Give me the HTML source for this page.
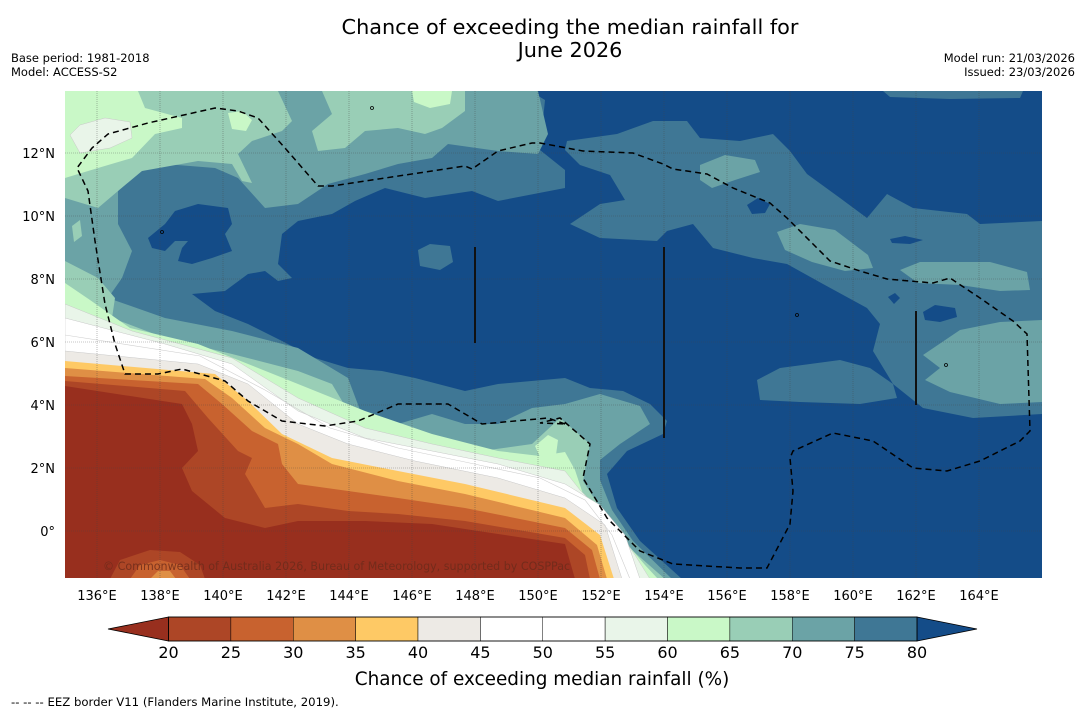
<!DOCTYPE html>
<html><head><meta charset="utf-8">
<style>
html,body{margin:0;padding:0;background:#fff;}
body{width:1085px;height:713px;overflow:hidden;font-family:"Liberation Sans","DejaVu Sans",sans-serif;}
svg text{font-family:"DejaVu Sans","Liberation Sans",sans-serif;}
</style></head>
<body>
<svg id="chart" width="1085" height="713" viewBox="0 0 1085 713" xmlns="http://www.w3.org/2000/svg">
  <text x="570" y="34" font-size="20.8" text-anchor="middle" fill="#000">Chance of exceeding the median rainfall for</text>
  <text x="570" y="57" font-size="20.8" text-anchor="middle" fill="#000">June 2026</text>
  <text x="11" y="62" font-size="11.5" fill="#000">Base period: 1981-2018</text>
  <text x="11" y="76" font-size="11.5" fill="#000">Model: ACCESS-S2</text>
  <text x="1075" y="62" font-size="11.5" text-anchor="end" fill="#000">Model run: 21/03/2026</text>
  <text x="1075" y="76" font-size="11.5" text-anchor="end" fill="#000">Issued: 23/03/2026</text>
  <defs><clipPath id="mapclip"><rect x="65" y="91" width="977" height="487"/></clipPath></defs>
  <g id="map" clip-path="url(#mapclip)"></g>
  <g id="axes"></g>
  <g id="cbar"></g>
  <text x="542" y="685" font-size="18.4" text-anchor="middle" fill="#000">Chance of exceeding median rainfall (%)</text>
  <text x="11" y="706" font-size="11.7" fill="#000">--  --  -- EEZ border V11 (Flanders Marine Institute, 2019).</text>
</svg>
<script>
// ---- data ----
const lonTicks = [136,138,140,142,144,146,148,150,152,154,156,158,160,162,164];
const latTicks = [0,2,4,6,8,10,12];
const cbLevels = [20,25,30,35,40,45,50,55,60,65,70,75,80];
const cbColors = ["#ad4626","#c8622f","#df8f45","#fec965","#edeae5","#ffffff","#ffffff","#e9f5e9","#c9f8c7","#99ceb6","#6ba3a6","#3f7795"];
const underColor = "#982f1e", overColor = "#144c88";
const lonMin = 135, lonMax = 166, latMin = -1.5, latMax = 14;
const X0=65.5, X1=1042, Y0=91, Y1=578;
function px(lon){return X0+(lon-lonMin)/(lonMax-lonMin)*(X1-X0);}
function py(lat){return 153+(12-lat)*31.5;}
const NS="http://www.w3.org/2000/svg";
function mk(tag,attrs,parent){const e=document.createElementNS(NS,tag);for(const k in attrs)e.setAttribute(k,attrs[k]);parent.appendChild(e);return e;}
const map=document.getElementById('map');

// digitized contour regions (screen coordinates of the map raster)
const C = {
 p80a:[[65,91],[530,91],[545,100],[540,150],[565,170],[565,188],[498,201],[472,191],[425,198],[385,188],[355,201],[332,214],[298,221],[282,234],[278,264],[292,278],[278,281],[265,271],[248,274],[225,291],[192,294],[215,311],[248,324],[282,341],[315,358],[348,368],[382,371],[415,378],[465,391],[498,384],[565,378],[590,388],[623,391],[650,404],[667,421],[663,434],[627,451],[607,474],[617,508],[640,541],[682,579],[65,579]],
 p80b:[[565,150],[567,141],[617,134],[653,121],[687,121],[700,138],[740,141],[773,134],[790,151],[807,174],[840,198],[867,218],[887,194],[913,208],[967,214],[980,224],[1042,221],[1042,414],[973,418],[923,408],[893,384],[873,351],[880,324],[867,308],[823,284],[787,264],[753,258],[713,248],[693,224],[667,231],[657,241],[600,238],[570,224],[600,204],[625,200],[610,175],[580,165]],
 p80c:[[757,380],[780,368],[840,360],[870,368],[893,384],[897,398],[860,404],[800,402],[760,400]],
 p80d:[[883,91],[1023,91],[1020,98],[950,99],[890,97]],
 p80e:[[418,250],[430,244],[450,246],[453,262],[440,270],[420,266]],
 b80a:[[148,238],[165,224],[175,211],[198,204],[228,208],[232,224],[225,234],[232,251],[212,258],[192,264],[178,261],[182,248],[188,241],[175,241],[165,251],[152,248]],
 b80b:[[747,205],[758,198],[770,204],[765,213],[752,214]],
 b80c:[[923,312],[935,305],[955,308],[957,317],[940,322],[925,320]],
 b80d:[[890,239],[905,236],[923,240],[910,244],[892,243]],
 b80e:[[888,297],[895,293],[900,298],[894,304]],
 p75:[[65,91],[538,91],[548,134],[538,154],[498,151],[448,144],[432,158],[398,164],[365,174],[328,184],[298,204],[265,208],[238,178],[215,168],[165,164],[132,174],[118,191],[118,224],[132,251],[122,278],[108,298],[165,318],[232,331],[298,348],[348,378],[360,410],[398,424],[432,414],[465,424],[498,424],[532,408],[565,404],[600,394],[640,406],[650,424],[620,444],[600,460],[600,480],[612,510],[633,541],[672,579],[65,579]],
 p75b:[[700,165],[725,155],[755,160],[760,172],[735,180],[712,188],[700,180]],
 p75c:[[777,232],[800,224],[835,230],[868,255],[873,268],[845,271],[812,262],[785,250]],
 p75d:[[900,270],[920,262],[990,262],[1027,272],[1030,290],[1000,291],[960,285],[918,283]],
 p75e:[[923,355],[960,330],[1000,322],[1042,320],[1042,402],[1000,404],[950,392],[925,380],[940,368]],
 p70a:[[65,91],[278,91],[292,121],[282,131],[252,141],[238,154],[252,183],[242,181],[232,164],[198,161],[142,171],[118,191],[98,208],[65,198]],
 p70b:[[322,91],[465,91],[465,111],[442,128],[425,134],[398,128],[365,131],[345,148],[318,151],[312,131],[332,114]],
 p70c:[[65,261],[98,278],[115,298],[112,318],[165,338],[232,354],[298,371],[332,384],[348,411],[365,424],[398,434],[448,441],[482,451],[532,444],[560,418],[590,444],[583,481],[607,518],[633,551],[665,579],[65,579]],
 p70d:[[72,226],[80,220],[82,236],[74,242]],
 p65a:[[65,91],[138,91],[145,108],[182,118],[182,128],[155,134],[132,158],[98,168],[65,178]],
 p65b:[[228,113],[242,111],[252,120],[246,131],[232,129]],
 p65c:[[412,91],[452,91],[450,104],[430,108],[414,102]],
 p65d:[[65,283],[90,300],[130,328],[198,344],[298,384],[365,411],[432,434],[498,451],[540,456],[565,452],[575,470],[585,500],[615,530],[645,565],[658,579],[65,579]],
 p65e:[[535,446],[548,435],[558,440],[556,455],[540,457]],
 p60a:[[70,135],[80,125],[105,118],[130,122],[132,138],[110,148],[80,153]],
 p60b:[[65,304],[132,331],[232,358],[298,398],[365,428],[432,444],[498,458],[565,471],[580,490],[610,520],[635,555],[650,579],[65,579]],
 p55:[[65,318],[165,344],[232,364],[298,411],[365,438],[432,451],[498,464],[565,484],[600,505],[625,535],[640,579],[65,579]],
 l50:[[65,335],[200,356],[265,390],[330,428],[398,448],[465,462],[540,478],[585,500],[612,535],[630,579]],
 p45:[[65,351],[198,364],[248,384],[298,424],[348,444],[415,461],[498,478],[565,498],[605,525],[622,579],[65,579]],
 p40:[[65,361],[215,374],[248,401],[282,434],[332,458],[398,471],[465,484],[565,508],[600,535],[614,579],[65,579]],
 p35:[[65,368],[205,379],[232,398],[265,428],[298,444],[332,464],[398,481],[465,494],[565,518],[597,545],[607,579],[65,579]],
 p30:[[65,376],[198,384],[222,404],[252,431],[278,444],[282,464],[298,484],[348,491],[398,498],[465,508],[565,528],[592,550],[600,579],[65,579]],
 p25:[[65,381],[185,391],[208,418],[238,451],[252,458],[245,474],[265,508],[298,504],[348,511],[398,514],[465,521],[565,538],[585,555],[590,579],[65,579]],
 p20:[[65,386],[182,404],[192,424],[198,451],[182,468],[192,491],[225,518],[265,528],[298,521],[365,521],[432,524],[498,534],[565,544],[575,579],[65,579]],
 bump25:[[110,579],[120,560],[150,550],[180,552],[200,565],[205,579]],
 bump30:[[130,579],[140,565],[160,560],[180,565],[190,579]],
 bump35:[[150,579],[158,571],[170,571],[176,579]]
};
const layers = [
 ["p80a",11],["p80b",11],["p80c",11],["p80d",11],["p80e",11],
 ["b80a",-1],["b80b",-1],["b80c",-1],["b80d",-1],["b80e",-1],
 ["p75",10],["p75b",10],["p75c",10],["p75d",10],["p75e",10],
 ["p70a",9],["p70b",9],["p70c",9],["p70d",9],
 ["p65a",8],["p65b",8],["p65c",8],["p65d",8],["p65e",8],
 ["p60a",7],["p60b",7],["p55",6],["p45",4],["p40",3],["p35",2],["p30",1],["p25",0],["p20",-2],
 ["bump25",0],["bump30",1],["bump35",2]
];
const eez=[[565,424],[548,418],[482,424],[448,404],[398,404],[358,421],[325,426],[282,421],[248,401],[225,381],[182,369],[158,374],[125,374],[115,344],[105,304],[95,241],[88,191],[77,168],[92,148],[108,134],[148,123],[215,108],[238,111],[258,118],[285,148],[318,186],[332,186],[465,166],[472,169],[498,151],[532,143],[540,143],[583,151],[633,153],[663,164],[673,169],[707,174],[733,188],[770,203],[787,218],[830,261],[860,271],[887,279],[933,283],[950,278],[980,298],[1013,321],[1027,334],[1030,431],[1020,441],[980,461],[947,471],[913,468],[873,441],[833,433],[793,451],[790,458],[793,491],[790,524],[767,568],[740,568],[673,564],[640,551],[607,518],[583,478],[590,444],[560,418],[540,423],[565,424]];

// ---- draw ----
mk('rect',{x:65,y:91,width:977,height:488,fill:overColor,},map);
function ptsStr(a){return a.map(p=>p[0]+','+p[1]).join(' ');}
layers.forEach(([key,ci])=>{
  const col = ci===-1?overColor:(ci===-2?underColor:cbColors[ci]);
  const poly=mk('polygon',{points:ptsStr(C[key]),fill:col,stroke:(ci>=4&&ci<=7)?'#c8c8c8':'none','stroke-width':0.5},map);
  
  
});
const l50=mk('polyline',{points:ptsStr(C.l50),fill:'none',stroke:'#cfcfcf','stroke-width':0.6},map);


lonTicks.forEach(l=>{const g=mk('line',{x1:px(l),x2:px(l),y1:91,y2:578,stroke:'#444','stroke-width':0.6,'stroke-dasharray':'1,1',opacity:0.6},map);
 
 });
latTicks.forEach(l=>{const g=mk('line',{x1:65,x2:1042,y1:py(l),y2:py(l),stroke:'#444','stroke-width':0.6,'stroke-dasharray':'1,1',opacity:0.6},map);
 
 });
[[475,247,343],[664,247,438],[916,311,405]].forEach((v,i)=>{const ln=mk('line',{x1:v[0],x2:v[0],y1:v[1],y2:v[2],stroke:'#111','stroke-width':2},map);
 
 });
const ez=mk('polyline',{points:ptsStr(eez),fill:'none',stroke:'#000','stroke-width':1.5,'stroke-dasharray':'6,4'},map);


[[372,108],[797,315],[946,365],[162,232]].forEach(p=>{const c=mk('circle',{cx:p[0],cy:p[1],r:1.5,fill:'none',stroke:'#000','stroke-width':0.8},map);
 
 });
const cp=mk('text',{x:103,y:570,'font-size':11.1,fill:'#6a2a1a','fill-opacity':0.8},map);
cp.textContent='© Commonwealth of Australia 2026, Bureau of Meteorology, supported by COSPPac';


const axes=document.getElementById('axes');
lonTicks.forEach(l=>{const t=mk('text',{x:px(l),y:600,'font-size':13,'text-anchor':'middle',fill:'#000'},axes);
 t.textContent=l+'°E';
 
 });
latTicks.forEach(l=>{const t=mk('text',{x:55,y:py(l)+5,'font-size':13,'text-anchor':'end',fill:'#000'},axes);
 t.textContent=l===0?'0°':l+'°N';
 
 });
const cb=document.getElementById('cbar');
const cbX0=168.5,cbX1=917,cbY0=617,cbY1=641;
function cx(v){return cbX0+(v-cbLevels[0])/(cbLevels[cbLevels.length-1]-cbLevels[0])*(cbX1-cbX0);}
const tl=mk('polygon',{points:`${cx(20)},${cbY0} 108,${(cbY0+cbY1)/2} ${cx(20)},${cbY1}`,fill:underColor,stroke:'#000','stroke-width':0.8},cb);


const tr=mk('polygon',{points:`${cx(80)},${cbY0} 977,${(cbY0+cbY1)/2} ${cx(80)},${cbY1}`,fill:overColor,stroke:'#000','stroke-width':0.8},cb);


cbColors.forEach((c,i)=>{const r=mk('rect',{x:cx(cbLevels[i]),y:cbY0,width:cx(cbLevels[i+1])-cx(cbLevels[i]),height:cbY1-cbY0,fill:c,stroke:'#000','stroke-width':0.5},cb);
 
 });
const frame=mk('rect',{x:cbX0,y:cbY0,width:cbX1-cbX0,height:cbY1-cbY0,fill:'none',stroke:'#000','stroke-width':0.8},cb);


cbLevels.forEach(v=>{const t=mk('text',{x:cx(v),y:658,'font-size':16,'text-anchor':'middle',fill:'#000'},cb);
 t.textContent=v;
 
 });
</script>
</body></html>
